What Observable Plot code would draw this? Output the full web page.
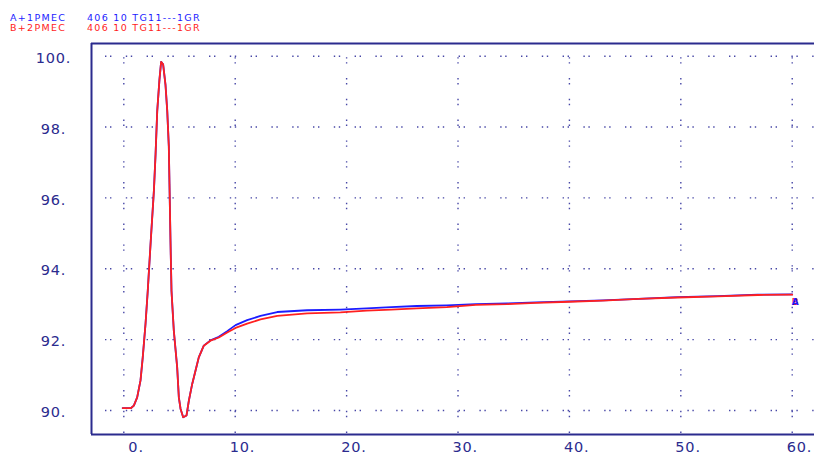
<!DOCTYPE html>
<html>
<head>
<meta charset="utf-8">
<script src="https://cdn.jsdelivr.net/npm/d3@7"></script>
<script src="https://cdn.jsdelivr.net/npm/@observablehq/plot@0.6"></script>
<style>
  html, body { margin: 0; padding: 0; background: #fff; }
  #wrap { position: relative; width: 814px; height: 455px; overflow: hidden; }
  .ttl { position: absolute; font-family: "DejaVu Sans", sans-serif; font-size: 9.5px; line-height: 10px; height: 10px; letter-spacing: 1.3px; white-space: pre; }
  .ta { color: #1c1cff; }
  .tb { color: #ff1c1c; }
</style>
</head>
<body>
<div id="wrap"></div>
<script>
// ---- data ----
const seriesNames = ["A+1PMEC", "B+2PMEC"];
const seriesDesc = "406 10 TG11---1GR";
const xTicks = [0, 10, 20, 30, 40, 50, 60];
const yTicks = [90, 92, 94, 96, 98, 100];

const xs = [-0.1, 0.65, 0.9, 1.2, 1.5, 1.7, 1.95, 2.15, 2.42, 2.7, 2.85, 3.0, 3.2, 3.35, 3.53, 3.74, 3.9, 4.04, 4.1, 4.19, 4.28, 4.49, 4.79, 4.94, 5.09, 5.33, 5.63, 5.84, 6.14, 6.44, 6.73, 7.18, 7.78, 8.53, 9.28, 10.03, 11.07, 12.27, 13.77, 16.46, 19.45, 21.8, 24.0, 26.3, 29.0, 31.6, 34.4, 37.0, 40.0, 43.0, 46.2, 49.7, 53.3, 56.9, 60.0];

const redB = [90.07, 90.07, 90.14, 90.37, 90.85, 91.5, 92.45, 93.38, 94.8, 96.2, 97.23, 98.45, 99.34, 99.84, 99.77, 99.2, 98.45, 97.46, 96.39, 94.8, 93.38, 92.25, 91.22, 90.37, 90.05, 89.81, 89.86, 90.28, 90.75, 91.13, 91.5, 91.83, 91.97, 92.06, 92.2, 92.33, 92.45, 92.57, 92.67, 92.74, 92.77, 92.82, 92.85, 92.88, 92.92, 92.98, 93.0, 93.04, 93.07, 93.1, 93.15, 93.19, 93.22, 93.26, 93.27];

const blueA = [90.07, 90.07, 90.14, 90.37, 90.85, 91.5, 92.45, 93.38, 94.8, 96.2, 97.23, 98.45, 99.34, 99.84, 99.77, 99.2, 98.45, 97.46, 96.39, 94.8, 93.38, 92.25, 91.22, 90.37, 90.05, 89.81, 89.86, 90.28, 90.75, 91.13, 91.5, 91.83, 91.98, 92.08, 92.24, 92.41, 92.55, 92.67, 92.78, 92.83, 92.85, 92.88, 92.92, 92.95, 92.97, 93.0, 93.02, 93.05, 93.08, 93.11, 93.15, 93.2, 93.23, 93.27, 93.28];

const endMarks = [{x: 60.3, y: 93.06, label: "B", color: "#ff1c1c"}, {x: 60.3, y: 93.06, label: "A", color: "#1c1cff"}];

const xDomain = [-2.9, 62.0];
const yDomain = [89.323, 100.358];

// ---- build tables ----
const dataA = xs.map((x, i) => ({x, y: blueA[i]}));
const dataB = xs.map((x, i) => ({x, y: redB[i]}));

const navy = "#2b2b8e";
const dotC = "#4747a6";

const chart = Plot.plot({
  width: 814,
  height: 455,
  marginLeft: 91,
  marginRight: 0,
  marginTop: 43,
  marginBottom: 21,
  style: {fontFamily: "DejaVu Sans, sans-serif", fontSize: "14.5px", color: navy, background: "white", letterSpacing: "0.8px"},
  x: {domain: xDomain, axis: null, label: null},
  y: {domain: yDomain, axis: null, label: null},
  marks: [
    Plot.ruleY(yTicks, {stroke: dotC, strokeWidth: 1.4, strokeDasharray: "1.4,3.6,1.4,14.4", strokeDashoffset: 6.8}),
    Plot.ruleX(xTicks, {stroke: dotC, strokeWidth: 1.4, strokeDasharray: "1.4,3.6,1.4,14.4", strokeDashoffset: 6.6}),
    Plot.axisX({ticks: xTicks, tickFormat: d => d + ".", tickSize: 0, tickPadding: 7, textAnchor: "end", dx: 20, fill: navy, label: null}),
    Plot.axisY({ticks: yTicks, tickFormat: d => d + ".", tickSize: 0, tickPadding: 38, textAnchor: "middle", dy: 2, fill: navy, label: null}),
    Plot.line(dataA, {x: "x", y: "y", stroke: "#1c1cff", strokeWidth: 1.8}),
    Plot.line(dataB, {x: "x", y: "y", stroke: "#ff2020", strokeWidth: 1.8}),
    Plot.text(endMarks, {x: "x", y: "y", text: "label", fill: "color", fontSize: 9, fontWeight: "bold"}),
    Plot.ruleX([xDomain[0]], {stroke: navy, strokeWidth: 2}),
    Plot.ruleY([yDomain[0], yDomain[1]], {stroke: navy, strokeWidth: 2})
  ]
});

const wrap = document.getElementById("wrap");
wrap.appendChild(chart);
chart.style.position = "absolute";
chart.style.left = "0px";
chart.style.top = "0px";

function addTitle(text, cls, left, top) {
  const d = document.createElement("div");
  d.className = "ttl " + cls;
  d.textContent = text;
  d.style.left = left + "px";
  d.style.top = top + "px";
  wrap.appendChild(d);
}
addTitle(seriesNames[0], "ta", 10, 12.5);
addTitle(seriesDesc, "ta", 87, 12.5);
addTitle(seriesNames[1], "tb", 10, 22.5);
addTitle(seriesDesc, "tb", 87, 22.5);
</script>
</body>
</html>
